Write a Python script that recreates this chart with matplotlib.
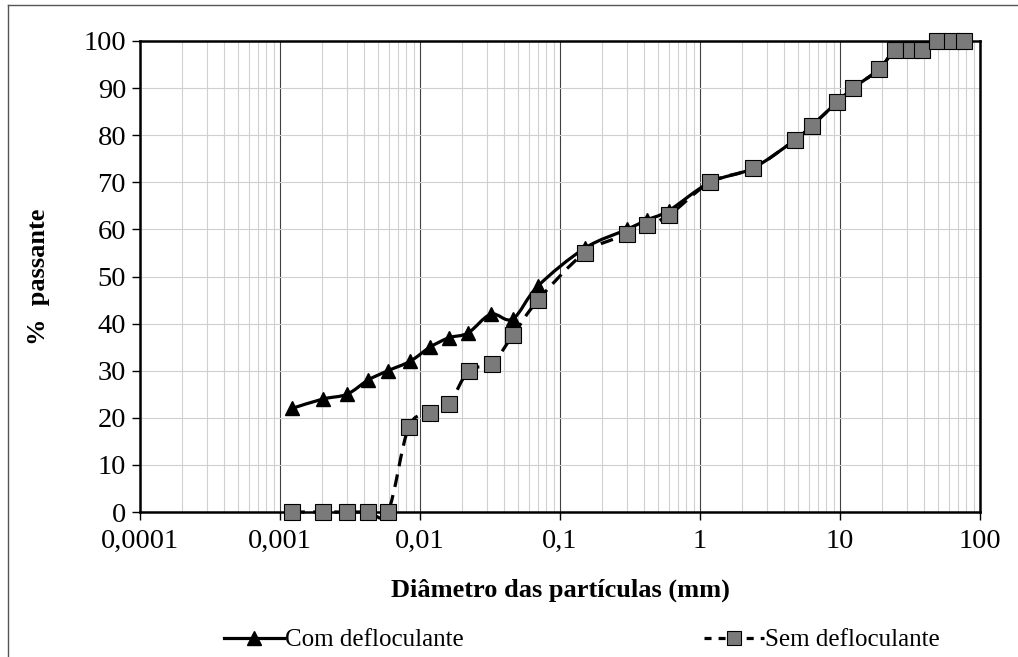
import numpy as np
import matplotlib
matplotlib.use("Agg")
import matplotlib.pyplot as plt
from matplotlib.path import Path
from matplotlib.patches import PathPatch
from matplotlib.lines import Line2D
from matplotlib.ticker import LogLocator, FixedLocator, NullFormatter

plt.rcParams['font.family'] = ['Liberation Serif', 'DejaVu Serif']

# Data
d_com = [0.00122, 0.00203, 0.00301, 0.00425, 0.0059, 0.0085, 0.0118, 0.0161, 0.022,
         0.0321, 0.046, 0.0697, 0.15, 0.301, 0.418, 0.6, 1.18, 2.39, 4.77, 6.3, 9.5,
         12.4, 19.0, 24.7, 32.0, 38.5, 49.3, 63.0, 76.9]
p_com = [22, 24, 25, 28, 30, 32, 35, 37, 38, 42, 41, 48, 56, 60, 62, 64, 70, 73, 79, 82,
         87, 90, 94, 98, 98, 98, 100, 100, 100]
d_sem = [0.00122, 0.00203, 0.00301, 0.00425, 0.0059, 0.0083, 0.0118, 0.0161, 0.0223,
         0.0326, 0.046, 0.0697, 0.15, 0.301, 0.418, 0.6, 1.18, 2.39, 4.77, 6.3, 9.5,
         12.4, 19.0, 24.7, 32.0, 38.5, 49.3, 63.0, 76.9]
p_sem = [0, 0, 0, 0, 0, 18, 21, 23, 30, 31.5, 37.5, 45, 55, 59, 61, 63, 70, 73, 79, 82,
         87, 90, 94, 98, 98, 98, 100, 100, 100]
labels = ["Com defloculante", "Sem defloculante"]
xticks = [0.0001, 0.001, 0.01, 0.1, 1, 10, 100]
xticklabels = ["0,0001", "0,001", "0,01", "0,1", "1", "10", "100"]
yticks = list(range(0, 101, 10))

W, H = 1018, 657
fig = plt.figure(figsize=(W / 100, H / 100), dpi=100)
ax = fig.add_axes([140 / W, 1 - 512 / H, 840 / W, 471 / H])
ax.set_xscale('log')
ax.set_xlim(0.0001, 100)
ax.set_ylim(0, 100)


def smooth_path(x, y):
    lx = np.log10(np.asarray(x, float))
    yy = np.asarray(y, float)
    n = len(lx)
    verts = [(lx[0], yy[0])]
    codes = [Path.MOVETO]
    for i in range(n - 1):
        p0 = np.array([lx[max(i - 1, 0)], yy[max(i - 1, 0)]])
        p1 = np.array([lx[i], yy[i]])
        p2 = np.array([lx[i + 1], yy[i + 1]])
        p3 = np.array([lx[min(i + 2, n - 1)], yy[min(i + 2, n - 1)]])
        c1 = p1 + (p2 - p0) / 6.0
        c2 = p2 - (p3 - p1) / 6.0
        verts += [tuple(c1), tuple(c2), tuple(p2)]
        codes += [Path.CURVE4] * 3
    verts = [(10 ** vx, vy) for vx, vy in verts]
    return Path(verts, codes)


lw = 2.3
ax.add_patch(PathPatch(smooth_path(d_sem, p_sem), fill=False, edgecolor='black',
                       lw=lw, linestyle=(0, (4.0, 2.6)), zorder=3, clip_on=False))
ax.add_patch(PathPatch(smooth_path(d_com, p_com), fill=False, edgecolor='black',
                       lw=lw, zorder=4, clip_on=False))
ax.plot(d_com, p_com, linestyle='none', marker='^', ms=10.5, color='black', zorder=5,
        clip_on=False)
ax.plot(d_sem, p_sem, linestyle='none', marker='s', ms=11, mfc='#7a7a7a', mec='black',
        mew=0.8, zorder=6, clip_on=False)

# grid
ax.xaxis.set_major_locator(FixedLocator(xticks))
ax.set_xticklabels(xticklabels)
ax.xaxis.set_minor_locator(LogLocator(base=10, subs=np.arange(2, 10), numticks=20))
ax.xaxis.set_minor_formatter(NullFormatter())
ax.set_yticks(yticks)
ax.grid(True, which='minor', axis='x', color='#d0d0d0', lw=0.8, zorder=0)
ax.grid(True, which='major', axis='y', color='#d0d0d0', lw=0.8, zorder=0)
ax.grid(True, which='major', axis='x', color='#404040', lw=0.8, zorder=0)
ax.set_axisbelow(True)
for s in ax.spines.values():
    s.set_linewidth(1.8)
    s.set_color('black')
ax.tick_params(axis='both', which='major', direction='out', length=6, width=1,
               labelsize=20.5, pad=4)
ax.tick_params(axis='x', which='minor', length=0)
ax.tick_params(axis='x', which='major', pad=6)

ax.set_xlabel("Diâmetro das partículas (mm)", fontsize=19, fontweight='bold', labelpad=18)
ax.set_ylabel("%  passante", fontsize=19, fontweight='bold', labelpad=24)

handles = [Line2D([], [], color='black', lw=lw, marker='^', ms=10.5),
           Line2D([], [], color='black', lw=lw, linestyle=(0, (2.2, 2.2)), marker='s',
                  ms=10.5, mfc='#7a7a7a', mec='black', mew=0.8)]
fig.legend(handles, labels, loc='center', bbox_to_anchor=(582 / W, 1 - 640 / H), ncol=2,
           frameon=False, fontsize=18, handlelength=2.4, columnspacing=9.6,
           handletextpad=0.05)

# outer chart border (top and left visible)
fig.add_artist(Line2D([8 / W, 1], [1 - 5 / H, 1 - 5 / H], transform=fig.transFigure,
                      color='#555555', lw=1))
fig.add_artist(Line2D([8 / W, 8 / W], [0, 1 - 5 / H], transform=fig.transFigure,
                      color='#555555', lw=1))

fig.savefig("out.png", dpi=100)
